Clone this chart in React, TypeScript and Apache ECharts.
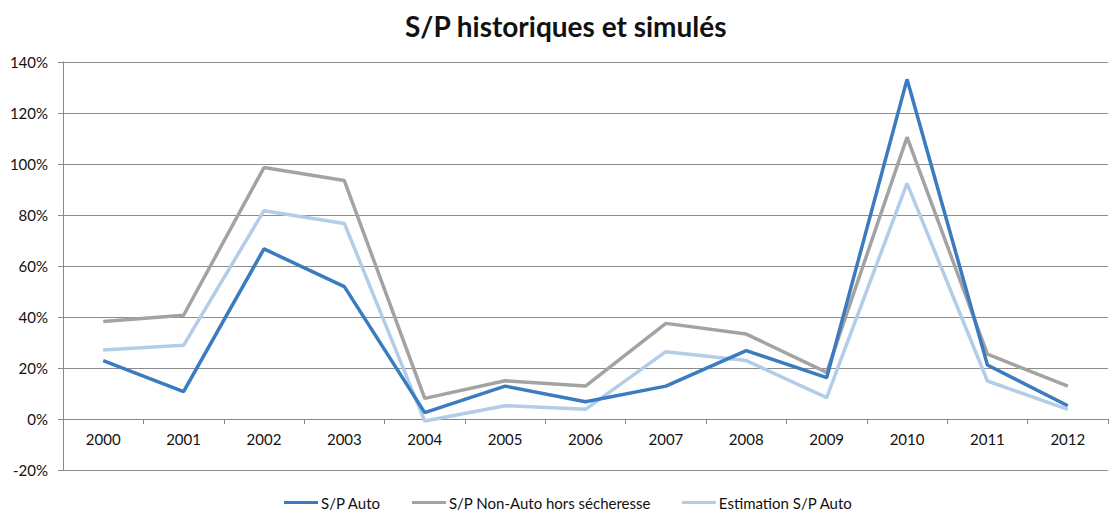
import React, { useEffect, useRef } from "react";
import * as echarts from "echarts";

const years = ["2000", "2001", "2002", "2003", "2004", "2005", "2006", "2007", "2008", "2009", "2010", "2011", "2012"];
const spAuto = [22.9, 10.7, 66.7, 51.9, 2.5, 12.9, 6.8, 12.9, 26.8, 16.2, 133.2, 21.2, 5.2];
const spNonAuto = [38.2, 40.7, 98.6, 93.5, 8.1, 15.0, 12.9, 37.5, 33.3, 18.3, 110.5, 25.4, 12.9];
const estimation = [27.1, 28.9, 81.7, 76.7, -0.8, 5.2, 3.8, 26.4, 22.9, 8.4, 92.4, 14.9, 3.8];
const seriesNames = ["S/P Auto", "S/P Non-Auto hors sécheresse", "Estimation S/P Auto"];
const colors = ["#3b7cc0", "#a3a3a3", "#b3cce8"];

export default function App() {
  const ref = useRef<HTMLDivElement>(null);
  useEffect(() => {
    if (!ref.current) return;
    const chart = echarts.init(ref.current, null, { renderer: "svg" });
    const font = "Lato, 'Open Sans', sans-serif";
    const data = [spAuto, spNonAuto, estimation];
    chart.setOption({
      animation: false,
      title: {
        text: "S/P historiques et simulés",
        left: 400,
        top: 7,
        textStyle: { fontFamily: font, fontSize: 28, fontWeight: "bold", color: "#111" },
      },
      legend: {
        bottom: 0,
        left: 284,
        padding: 0,
        itemWidth: 34,
        itemHeight: 3,
        itemGap: 31,
        icon: "rect",
        textStyle: { fontFamily: font, fontSize: 15, color: "#111", padding: [0, 0, 0, -2] },
        data: seriesNames,
      },
      grid: { left: 63, right: 3, top: 62, bottom: 40, containLabel: false },
      xAxis: {
        type: "category",
        data: years,
        boundaryGap: true,
        position: "bottom",
        offset: -51,
        axisLine: { onZero: false, lineStyle: { color: "#888", width: 1 } },
        axisTick: { show: true, length: 5, alignWithLabel: false, lineStyle: { color: "#888" } },
        axisLabel: { fontFamily: font, fontSize: 15, color: "#111", margin: 12 },
      },
      yAxis: {
        type: "value",
        min: -20,
        max: 140,
        interval: 20,
        axisLine: { show: true, lineStyle: { color: "#888", width: 1 } },
        axisTick: { show: true, length: 5, lineStyle: { color: "#888" } },
        splitLine: { show: true, lineStyle: { color: "#8c8c8c", width: 1 } },
        axisLabel: { fontFamily: font, fontSize: 15, color: "#111", formatter: "{value}%", margin: 15 },
      },
      series: seriesNames.map((name, i) => ({
        name,
        type: "line",
        data: data[i],
        symbol: "none",
        lineStyle: { color: colors[i], width: 3.5 },
        itemStyle: { color: colors[i] },
        z: i === 0 ? 4 : i === 1 ? 3 : 2,
      })),
    });
    return () => chart.dispose();
  }, []);
  return <div ref={ref} style={{ position: "fixed", left: 0, top: 0, width: 1111, height: 510, background: "#fff" }} />;
}
